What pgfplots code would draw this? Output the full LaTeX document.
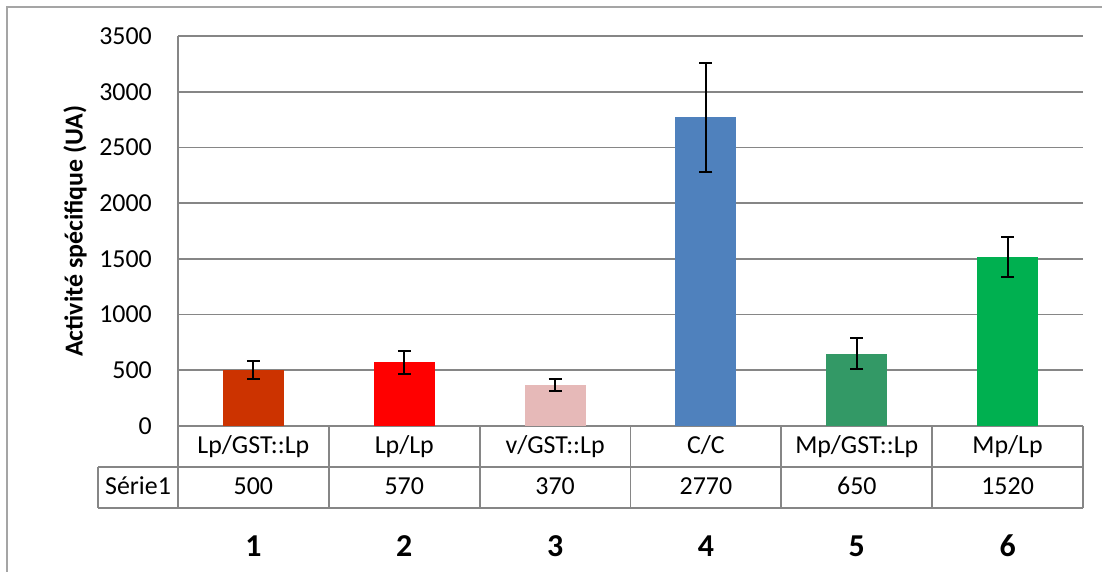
\documentclass[border=0pt]{standalone}
\usepackage{pgfplots}
\pgfplotsset{compat=1.18}
\usepackage{fontspec}
\setmainfont{Carlito}
\definecolor{c1}{RGB}{204,51,0}
\definecolor{c2}{RGB}{255,0,0}
\definecolor{c3}{RGB}{230,185,184}
\definecolor{c4}{RGB}{79,129,189}
\definecolor{c5}{RGB}{51,153,102}
\definecolor{c6}{RGB}{0,176,80}
\definecolor{gridc}{RGB}{134,134,134}
\definecolor{borderc}{RGB}{165,165,165}
\pgfplotsset{
  barsty/.style={ybar, bar width=61bp, bar shift=0pt, fill=#1, draw=none,
    error bars/.cd, y dir=both, y explicit,
    error bar style={black, line width=2bp},
    error mark options={black, line width=2bp, mark size=6.5bp, rotate=90}},
}
\tikzset{
  cell/.style={anchor=base, inner sep=0pt, font=\fontsize{26}{30}\selectfont},
  big/.style={anchor=base, inner sep=0pt, font=\fontsize{32}{38}\selectfont\bfseries},
  tline/.style={gridc, line width=1.8bp},
}
\begin{document}
\begin{tikzpicture}
\useasboundingbox (0bp,0bp) rectangle (1102bp,572bp);
\draw[borderc, line width=1.8bp] (7bp,0bp) -- (7bp,565bp) -- (1102bp,565bp);
\begin{axis}[
  at={(178bp,146bp)}, anchor=south west,
  width=905bp, height=390bp, scale only axis,
  xmin=0.5, xmax=6.5, ymin=0, ymax=3500,
  ytick={0,500,...,3500}, xtick=\empty,
  ymajorgrids, grid style={gridc, line width=1.8bp},
  axis x line*=bottom, axis y line*=left,
  axis line style={gridc, line width=1.8bp, -},
  major tick length=0pt,
  /pgf/number format/assume math mode=true,
  /pgf/number format/1000 sep={},
  yticklabel style={font=\fontsize{26}{30}\selectfont, anchor=east, inner sep=0pt, xshift=-26bp},
  ylabel={Activité spécifique (UA)},
  ylabel style={at={(axis description cs:-0.1138,0.5)}, anchor=center, font=\fontsize{26}{30}\selectfont\bfseries},
  clip=false,
]
\addplot[barsty=c1] coordinates {(1,500) +- (0,80)};
\addplot[barsty=c2] coordinates {(2,570) +- (0,100)};
\addplot[barsty=c3] coordinates {(3,370) +- (0,55)};
\addplot[barsty=c4] coordinates {(4,2770) +- (0,490)};
\addplot[barsty=c5] coordinates {(5,650) +- (0,142)};
\addplot[barsty=c6] coordinates {(6,1520) +- (0,180)};
\end{axis}
% data table
\draw[tline] (98bp,105bp) -- (1083bp,105bp);
\draw[tline] (98bp,64bp) -- (1083bp,64bp);
\draw[tline] (98bp,64bp) -- (98bp,105bp);
\draw[tline] (178bp,64bp) -- (178bp,146bp);
\draw[tline] (328.8bp,64bp) -- (328.8bp,146bp);
\draw[tline] (479.7bp,64bp) -- (479.7bp,146bp);
\draw[tline] (630.5bp,64bp) -- (630.5bp,146bp);
\draw[tline] (781.3bp,64bp) -- (781.3bp,146bp);
\draw[tline] (932.2bp,64bp) -- (932.2bp,146bp);
\draw[tline] (1083bp,64bp) -- (1083bp,146bp);
\node[cell] at (138bp,77bp) {Série1};
\node[cell] at (253.4bp,118bp) {Lp/GST::Lp};
\node[cell] at (404.3bp,118bp) {Lp/Lp};
\node[cell] at (555.1bp,118bp) {v/GST::Lp};
\node[cell] at (705.9bp,118bp) {C/C};
\node[cell] at (856.8bp,118bp) {Mp/GST::Lp};
\node[cell] at (1007.6bp,118bp) {Mp/Lp};
\node[cell] at (253.4bp,77bp) {500};
\node[cell] at (404.3bp,77bp) {570};
\node[cell] at (555.1bp,77bp) {370};
\node[cell] at (705.9bp,77bp) {2770};
\node[cell] at (856.8bp,77bp) {650};
\node[cell] at (1007.6bp,77bp) {1520};
\node[big] at (253.4bp,15.3bp) {1};
\node[big] at (404.3bp,15.3bp) {2};
\node[big] at (555.1bp,15.3bp) {3};
\node[big] at (705.9bp,15.3bp) {4};
\node[big] at (856.8bp,15.3bp) {5};
\node[big] at (1007.6bp,15.3bp) {6};
\end{tikzpicture}
\end{document}
